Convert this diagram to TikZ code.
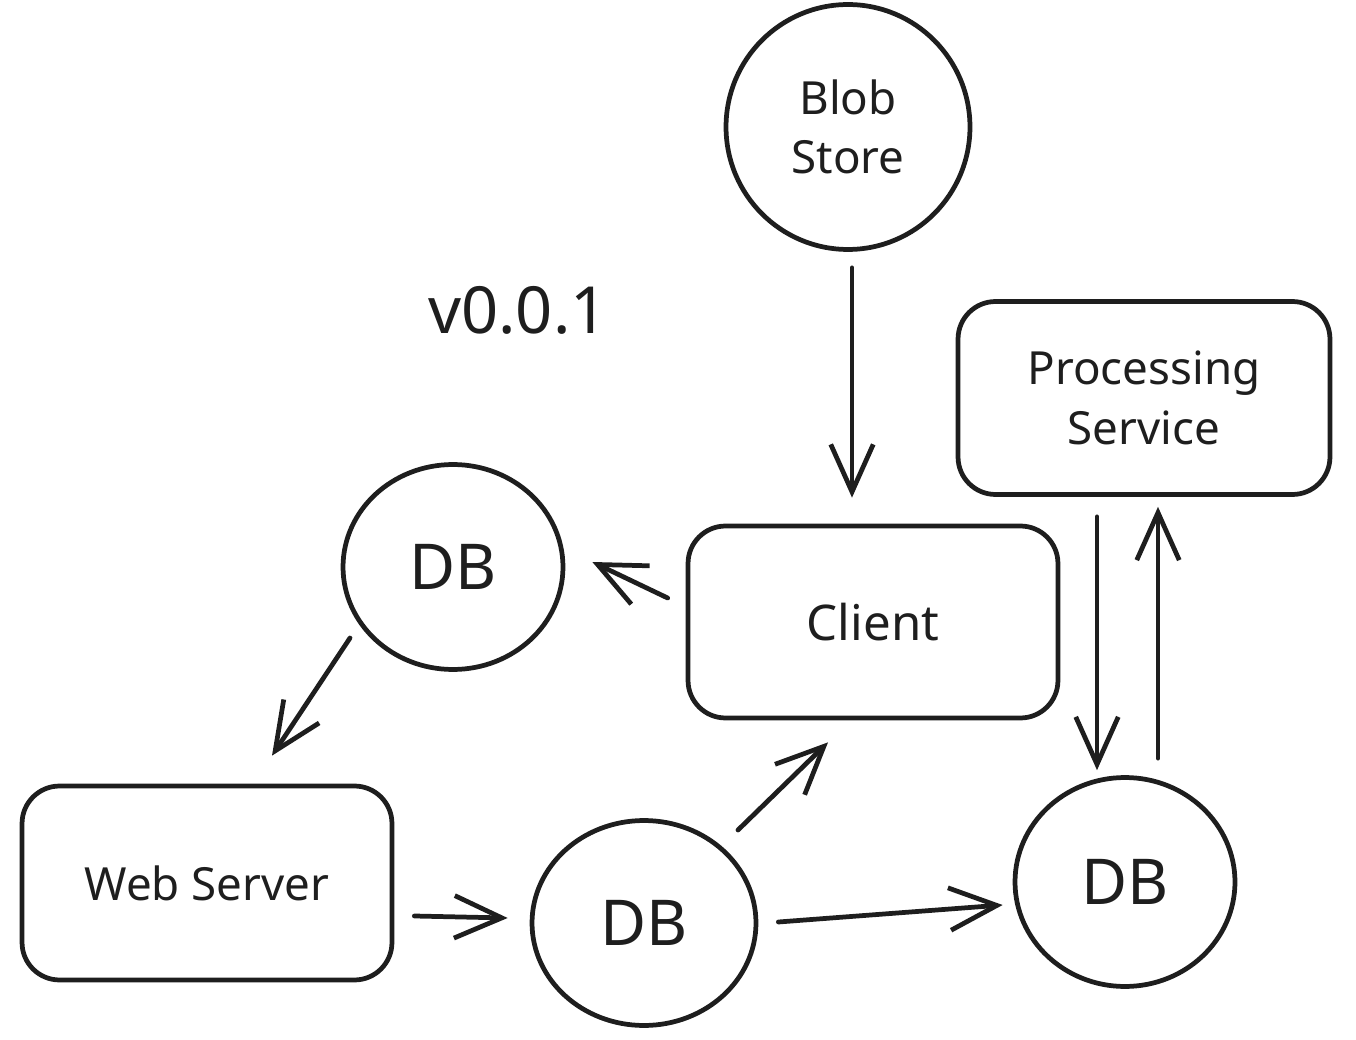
\documentclass[tikz,border=0pt]{standalone}
\usepackage{fontspec}
\setmainfont{Noto Sans}
\usetikzlibrary{shapes.geometric,arrows.meta,calc}
\definecolor{ink}{HTML}{1E1E1E}
\begin{document}
\begin{tikzpicture}[x=0.02cm,y=-0.02cm,
  every node/.style={text=ink},
  ell/.style={ellipse,draw=ink,line width=2.7pt,inner sep=0pt},
  box/.style={rectangle,draw=ink,line width=2.7pt,rounded corners=0.75cm,inner sep=0pt,align=center},
  arr/.style={draw=ink,line width=2.7pt,line cap=round,-{Straight Barb[length=0.95cm,width=0.85cm,line width=2.7pt]}},
  lbl/.style={font=\fontsize{26}{34}\selectfont,align=center},
  dbl/.style={font=\fontsize{36}{40}\selectfont}]
\useasboundingbox (0,0) rectangle (1356,1040);
\node[ell,minimum width=4.88cm,minimum height=4.9cm,lbl] (blob) at (848,127) {Blob\\Store};
\node[font=\fontsize{37}{40}\selectfont] (ver) at (518,310) {v0.0.1};
\node[box,minimum width=7.44cm,minimum height=3.86cm,lbl] (proc) at (1144,398) {Processing\\Service};
\node[ell,minimum width=4.4cm,minimum height=4.1cm,dbl] (dbl) at (453,567) {DB};
\node[box,minimum width=7.4cm,minimum height=3.84cm,lbl,font=\fontsize{28}{34}\selectfont] (client) at (873,622) {Client};
\node[box,minimum width=7.4cm,minimum height=3.88cm,lbl] (web) at (207,883) {Web Server};
\node[ell,minimum width=4.48cm,minimum height=4.1cm,dbl] (dbm) at (644,923) {DB};
\node[ell,minimum width=4.4cm,minimum height=4.18cm,dbl] (dbr) at (1125,882) {DB};
\draw[arr] ($(blob.south)+(4,16)$) -- ($(client.north)+(-21,-26)$);
\draw[arr] ($(client.west)+(-18,-24)$) -- ($(dbl.east)+(27,-5)$);
\draw[arr] ($(dbl.center)+(-103,71)$) -- ($(web.north)+(65,-28)$);
\draw[arr] ($(web.east)+(20,33)$) -- ($(dbm.west)+(-22,-5)$);
\draw[arr] ($(dbm.center)+(94,-93)$) -- ($(client.south)+(-45,22)$);
\draw[arr] ($(dbm.east)+(20,-1)$) -- ($(dbr.west)+(-10,23)$);
\draw[arr] ($(proc.south)+(-47,20)$) -- ($(dbr.north)+(-28,-5)$);
\draw[arr] ($(dbr.north)+(33,-17)$) -- ($(proc.south)+(14,10)$);
\end{tikzpicture}
\end{document}
